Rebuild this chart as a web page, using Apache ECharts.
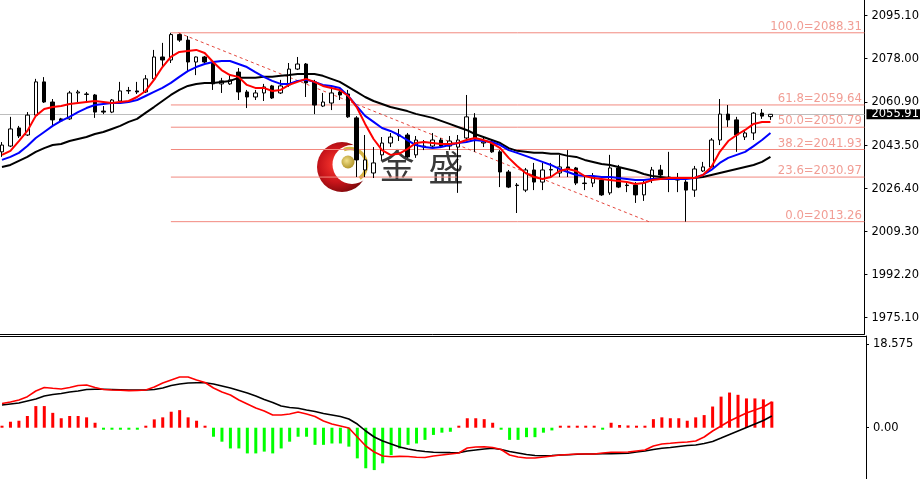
<!DOCTYPE html>
<html><head><meta charset="utf-8">
<script src="https://cdn.jsdelivr.net/npm/echarts@6/dist/echarts.min.js"></script>
<style>html,body{margin:0;padding:0;background:#fff}#c{width:922px;height:479px}</style>
</head><body><div id="c"></div>
<script>
const openP = [2041.0,2043.3,2050.5,2047.7,2055.6,2068.8,2060.8,2054.1,2054.1,2064.4,
2063.8,2063.6,2057.2,2056.8,2061.2,2065.2,2065.2,2064.8,2070.0,2078.7,
2077.5,2087.6,2085.4,2076.7,2078.7,2076.3,2068.0,2068.0,2072.7,2064.8,
2062.8,2064.4,2067.2,2064.4,2067.6,2073.9,2075.9,2068.8,2059.2,2060.4,
2064.8,2064.0,2054.5,2033.8,2032.6,2039.8,2044.5,2047.3,2047.7,2039.8,
2042.9,2043.3,2045.7,2043.3,2042.9,2046.5,2054.5,2044.5,2044.9,2041.0,
2033.0,2027.8,2025.8,2033.8,2029.0,2033.8,2032.6,2035.0,2034.6,2028.6,
2028.6,2029.8,2024.7,2034.6,2027.8,2027.8,2023.9,2029.8,2033.8,2031.0,
2029.8,2029.0,2025.8,2033.4,2035.0,2045.7,2056.0,2053.7,2046.9,2048.5,
2056.4,2055.0];
const closeP = [2043.7,2050.1,2047.3,2055.6,2068.8,2060.8,2053.7,2053.3,2064.4,2064.8,
2064.0,2056.8,2056.8,2061.6,2065.2,2065.4,2064.8,2070.0,2078.7,2077.5,
2087.6,2085.4,2076.7,2078.7,2076.7,2068.0,2069.2,2069.6,2064.8,2062.8,
2064.4,2066.8,2062.4,2067.2,2073.9,2075.9,2068.4,2059.6,2060.8,2064.4,
2063.6,2054.9,2037.8,2037.8,2036.6,2044.5,2046.9,2047.7,2039.0,2045.7,
2043.3,2045.7,2043.3,2045.3,2045.7,2054.9,2046.5,2044.9,2041.0,2033.0,
2027.0,2027.6,2033.8,2029.0,2033.8,2034.0,2035.0,2034.2,2028.6,2028.4,
2031.0,2023.9,2034.6,2027.0,2027.6,2023.9,2028.6,2033.8,2031.8,2030.8,
2030.0,2025.8,2034.2,2035.0,2045.7,2056.0,2053.7,2047.7,2048.5,2056.4,
2055.2,2055.91];
const lowP = [2039.0,2042.9,2046.5,2047.3,2055.2,2060.4,2050.9,2052.9,2053.7,2060.8,
2060.4,2054.5,2056.0,2056.4,2061.0,2064.0,2064.0,2064.4,2069.6,2074.7,
2076.3,2084.7,2072.7,2071.5,2076.3,2065.6,2064.4,2067.6,2061.6,2058.4,
2061.6,2061.2,2062.0,2064.0,2066.8,2073.5,2062.8,2056.0,2058.8,2057.6,
2061.6,2054.5,2031.0,2031.0,2030.6,2037.8,2042.9,2045.3,2038.6,2038.6,
2041.7,2042.5,2042.5,2041.7,2024.7,2045.7,2041.0,2042.9,2040.6,2027.0,
2026.6,2016.7,2025.0,2025.8,2025.8,2031.0,2031.0,2031.0,2027.8,2025.8,
2027.0,2023.5,2023.9,2026.6,2025.0,2020.7,2021.5,2028.6,2031.0,2025.0,
2025.0,2013.26,2023.1,2033.0,2034.6,2043.7,2050.9,2041.0,2045.7,2045.7,
2054.1,2053.7];
const highP = [2044.9,2054.9,2051.3,2056.8,2070.0,2070.7,2062.0,2054.5,2065.2,2065.6,
2064.8,2064.0,2059.2,2062.0,2068.8,2066.8,2068.8,2071.5,2081.5,2084.3,
2088.31,2088.0,2087.0,2078.9,2079.1,2076.7,2070.4,2071.9,2074.3,2065.6,
2065.6,2068.0,2067.6,2069.6,2076.3,2078.7,2076.3,2069.6,2064.4,2066.0,
2066.4,2065.6,2055.2,2047.7,2042.9,2046.9,2048.5,2050.1,2048.5,2047.3,
2045.7,2048.5,2046.5,2047.3,2047.7,2063.6,2056.4,2046.9,2045.7,2041.7,
2033.8,2028.6,2034.6,2036.6,2036.6,2036.6,2039.8,2041.7,2035.0,2031.8,
2032.6,2031.0,2039.8,2035.8,2029.0,2029.0,2029.8,2035.0,2035.8,2041.0,
2032.6,2029.8,2035.4,2037.0,2046.5,2062.0,2059.6,2054.9,2049.3,2056.8,
2058.0,2056.0];
const maFast = [2039.8,2041.4,2045.3,2049.3,2055.3,2058.0,2058.8,2059.2,2060.0,2060.4,
2060.8,2061.2,2060.8,2060.4,2060.8,2061.2,2062.8,2065.2,2069.6,2074.7,
2078.7,2080.7,2081.1,2081.5,2080.3,2076.7,2073.5,2071.5,2070.8,2067.6,
2066.4,2066.4,2065.2,2065.6,2067.6,2068.8,2070.0,2068.8,2067.2,2066.4,
2065.6,2063.2,2058.8,2052.1,2046.1,2041.7,2039.8,2040.2,2042.1,2044.5,
2044.9,2044.5,2044.1,2044.1,2044.5,2045.7,2046.5,2045.7,2044.5,2042.5,
2038.6,2035.4,2032.6,2031.0,2030.2,2031.0,2033.4,2034.2,2033.4,2031.4,
2030.6,2030.2,2029.8,2029.4,2029.0,2028.2,2028.6,2029.8,2030.2,2030.6,
2030.6,2030.6,2030.6,2031.8,2035.0,2041.0,2045.3,2047.7,2049.7,2052.1,
2052.9,2052.9];
const maMid = [2037.8,2039.0,2040.6,2043.3,2046.5,2048.9,2051.3,2053.3,2054.9,2056.8,
2058.4,2059.6,2060.0,2060.4,2060.4,2060.8,2061.6,2063.2,2064.8,2066.4,
2068.4,2070.8,2073.1,2074.7,2075.9,2076.7,2077.1,2077.1,2075.9,2074.7,
2072.7,2070.8,2069.2,2068.0,2068.0,2069.2,2069.6,2068.8,2067.6,2067.2,
2066.4,2063.2,2059.2,2055.3,2052.9,2050.5,2049.3,2047.7,2045.7,2043.7,
2042.9,2042.5,2042.9,2043.7,2044.5,2044.9,2045.7,2045.3,2044.9,2043.7,
2041.7,2040.6,2039.4,2038.2,2037.0,2035.8,2034.2,2033.0,2031.8,2031.4,
2031.4,2031.0,2031.0,2030.6,2030.2,2029.8,2029.8,2030.2,2030.2,2030.2,
2030.2,2030.2,2030.6,2031.8,2033.8,2036.6,2038.6,2039.8,2041.0,2043.3,
2045.7,2048.5];
const maSlow = [2035.0,2035.8,2037.4,2039.0,2041.0,2042.5,2043.7,2044.1,2045.3,2046.1,
2046.9,2048.1,2048.9,2050.1,2051.3,2052.9,2054.1,2056.5,2058.8,2061.2,
2063.6,2065.6,2067.2,2068.0,2068.4,2068.4,2068.8,2069.2,2070.4,2070.4,
2070.4,2070.8,2070.8,2071.2,2071.5,2071.9,2071.9,2071.9,2071.2,2070.0,
2068.8,2066.8,2064.8,2062.8,2061.2,2060.0,2058.8,2058.0,2057.2,2056.1,
2055.3,2054.5,2053.3,2052.1,2050.9,2049.7,2048.1,2046.9,2045.7,2044.5,
2042.5,2041.4,2041.0,2040.6,2040.6,2040.2,2040.2,2039.4,2039.0,2037.8,
2037.0,2036.2,2035.8,2035.0,2034.2,2033.4,2032.2,2031.4,2031.0,2030.6,
2030.6,2030.6,2030.6,2031.0,2031.8,2032.6,2033.4,2034.2,2035.0,2035.8,
2037.0,2039.0];
const macdDif = [5.37,5.70,6.15,6.88,8.14,8.92,8.74,8.59,8.92,9.37,
9.48,8.92,8.48,8.37,8.30,8.23,8.26,8.37,9.03,9.92,
10.59,11.25,11.25,10.59,10.03,8.81,7.92,7.26,6.15,5.26,
4.37,3.71,2.82,2.82,3.04,3.48,3.04,2.49,1.49,0.82,
0.38,-0.07,-2.06,-4.06,-5.39,-6.28,-6.44,-6.35,-6.39,-6.57,
-6.61,-6.28,-6.06,-5.84,-5.61,-4.50,-4.28,-4.22,-4.39,-4.84,
-6.06,-6.50,-6.72,-6.72,-6.50,-6.28,-6.06,-5.95,-5.84,-5.84,
-5.84,-5.61,-5.46,-5.46,-5.39,-5.17,-4.95,-4.06,-3.62,-3.46,
-3.28,-3.17,-2.95,-2.06,-0.73,0.38,1.49,2.37,3.26,3.93,
4.59,5.70];
const macdDea = [5.04,5.26,5.48,5.93,6.37,7.04,7.37,7.59,7.92,8.15,
8.48,8.52,8.52,8.48,8.43,8.37,8.37,8.37,8.48,8.81,
9.37,9.70,9.92,9.99,9.99,9.70,9.26,8.81,8.26,7.70,
7.04,6.26,5.59,4.82,4.48,4.31,3.93,3.60,3.15,2.82,
2.49,1.93,0.82,-0.73,-2.06,-2.95,-3.62,-4.28,-4.73,-5.06,
-5.28,-5.46,-5.50,-5.53,-5.55,-5.17,-4.95,-4.73,-4.57,-4.84,
-5.28,-5.61,-5.95,-6.17,-6.21,-6.17,-6.06,-5.99,-5.90,-5.84,
-5.84,-5.79,-5.75,-5.73,-5.68,-5.39,-5.17,-4.84,-4.57,-4.39,
-4.17,-3.95,-3.84,-3.51,-3.06,-2.29,-1.51,-0.73,0.04,0.82,
1.60,2.60];
const macdHist = [0.15,1.33,1.55,2.6,4.8,4.8,3.3,2.1,2.6,2.6,
2.3,1.1,-0.3,-0.3,-0.3,-0.3,-0.3,0.2,1.85,2.3,
3.55,3.9,2.3,1.55,0.15,-2.0,-3.1,-4.6,-4.6,-5.7,
-5.7,-5.3,-5.7,-4.6,-3.1,-2.0,-2.0,-3.8,-3.8,-3.5,
-3.5,-4.2,-6.8,-9.0,-9.4,-7.9,-6.1,-4.6,-3.8,-3.5,
-2.7,-1.6,-1.1,-0.9,0.15,2.1,2.1,1.9,1.1,-0.3,
-2.7,-2.7,-2.1,-2.1,-1.1,-0.6,0.15,0.2,0.15,0.15,
0.15,-0.15,1.1,0.6,0.5,0.2,0.3,1.9,2.3,2.1,
2.1,1.55,2.3,2.8,4.7,6.9,7.8,7.3,6.5,6.5,
6.3,5.8];
const priceTicks = [1975.10, 1992.20, 2009.30, 2026.40, 2043.50, 2060.90, 2078.00, 2095.10];
const macdTicks = [0, 18.575];
const macdTickLabels = ['0.00', '18.575'];
const fibPct = ['100.0', '61.8', '50.0', '38.2', '23.6', '0.0'];
const fibPrice = [2088.31, 2059.64, 2050.79, 2041.93, 2030.97, 2013.26];
const fibStartBar = 20;
const trendAnchors = [[20.9, 2088.31], [76.6, 2013.26]];
const lastPrice = 2055.91;

const xMin = -0.236, xMax = 102.13;
const FONT = 'DejaVu Sans';
const FIB_LINE = '#f2897f';
const FIB_TEXT = '#ee8479';
const chart = echarts.init(document.getElementById('c'));

function axisY(gi, min, max, ticks, fmt) {
  return {
    type: 'value', gridIndex: gi, position: 'right', min: min, max: max,
    axisLine: {show: true, onZero: false, lineStyle: {color: '#000', width: 1}},
    axisTick: {show: true, length: 3, customValues: ticks, lineStyle: {color: '#000'}},
    axisLabel: {customValues: ticks, formatter: fmt, color: '#000', fontFamily: FONT, fontSize: 11.5, margin: 7},
    splitLine: {show: false}
  };
}
function axisX(gi, pos) {
  return {
    type: 'value', gridIndex: gi, min: xMin, max: xMax, position: pos,
    axisLine: {show: true, onZero: false, lineStyle: {color: '#000', width: 1}},
    axisTick: {show: false}, axisLabel: {show: false}, splitLine: {show: false}
  };
}
function lineSeries(arr, color, width, xi, yi) {
  return {
    type: 'line', xAxisIndex: xi, yAxisIndex: yi, data: arr.map((v, i) => [i, v]),
    showSymbol: false, symbol: 'none', silent: true, z: 4,
    lineStyle: {color: color, width: width}
  };
}

const fibLineSeries = fibPrice.map(p => ({
  type: 'line', xAxisIndex: 0, yAxisIndex: 0, z: 1, silent: true,
  showSymbol: false, symbol: 'none', color: FIB_LINE,
  data: [[fibStartBar, p], [xMax, p]],
  lineStyle: {color: FIB_LINE, width: 1, type: 'solid'}
}));

const option = {
  animation: false,
  backgroundColor: '#ffffff',
  grid: [
    {left: 0, top: 0, width: 866, height: 334},
    {left: 0, top: 336, width: 866, height: 143}
  ],
  xAxis: [axisX(0, 'bottom'), axisX(1, 'top')],
  yAxis: [
    axisY(0, 1968.62, 2101.34, priceTicks, v => v.toFixed(2)),
    axisY(1, -11.38, 20.35, macdTicks, v => {
      const k = macdTicks.findIndex(t => Math.abs(t - v) < 1e-6);
      return k >= 0 ? macdTickLabels[k] : '';
    })
  ],
  graphic: {elements: [
    {type: 'circle', z: 0, shape: {cx: 342, cy: 167, r: 25}, silent: true,
      style: {fill: new echarts.graphic.RadialGradient(0.4, 0.45, 0.65, [
        {offset: 0, color: '#ff3a30'}, {offset: 0.55, color: '#c8141a'}, {offset: 1, color: '#6e0608'}])}},
    {type: 'circle', z: 0, shape: {cx: 352, cy: 164.5, r: 19.5}, silent: true, style: {fill: '#ffffff'}},
    {type: 'arc', z: 0, silent: true, shape: {cx: 350, cy: 165, r: 16.5, startAngle: -Math.PI * 0.62, endAngle: Math.PI * 0.3},
      style: {stroke: '#d6b444', lineWidth: 3.5, fill: null}},
    {type: 'circle', z: 0, shape: {cx: 348, cy: 162, r: 6.5}, silent: true,
      style: {fill: new echarts.graphic.RadialGradient(0.4, 0.4, 0.7, [
        {offset: 0, color: '#f2e08a'}, {offset: 1, color: '#a88a1c'}])}},
    {type: 'text', z: 0, x: 397, y: 166, silent: true,
      style: {text: '金', fontSize: 35, fontFamily: 'Noto Sans CJK SC', fill: '#3a3a3a', align: 'center', verticalAlign: 'middle'}},
    {type: 'text', z: 0, x: 446, y: 168, silent: true,
      style: {text: '盛', fontSize: 35, fontFamily: 'Noto Sans CJK SC', fill: '#3a3a3a', align: 'center', verticalAlign: 'middle'}}
  ]},
  series: fibLineSeries.concat([
    {
      type: 'scatter', name: 'fiboLabels', xAxisIndex: 0, yAxisIndex: 0, z: 2, silent: true, clip: false,
      symbol: 'circle', symbolSize: 1, itemStyle: {color: 'rgba(0,0,0,0)'},
      data: fibPrice.map((p, k) => ({value: [xMax, p], name: fibPct[k] + '=' + p.toFixed(2)})),
      label: {show: true, position: 'left', distance: 2, offset: [0, -6], formatter: '{b}',
        color: FIB_TEXT, fontFamily: FONT, fontSize: 11.7}
    },
    {
      type: 'line', name: 'fiboTrend', xAxisIndex: 0, yAxisIndex: 0, data: trendAnchors, z: 1, silent: true,
      showSymbol: false, symbol: 'none',
      lineStyle: {color: '#e4463c', width: 1, type: [3, 3]}
    },
    {
      type: 'candlestick', name: 'K', xAxisIndex: 0, yAxisIndex: 0, z: 3, silent: true,
      data: openP.map((o, i) => [i, o, closeP[i], lowP[i], highP[i]]),
      encode: {x: 0, y: [1, 2, 3, 4]},
      barWidth: 4,
      itemStyle: {color: '#ffffff', color0: '#000000', borderColor: '#000000', borderColor0: '#000000', borderColorDoji: '#000000', borderWidth: 1},
      markLine: {
        symbol: ['none', 'none'], silent: true, animation: false, z: 1,
        lineStyle: {color: '#bdbdbd', width: 1, type: 'solid'},
        label: {show: true, position: 'end', distance: 2, formatter: lastPrice.toFixed(2),
          backgroundColor: '#000', color: '#fff', fontFamily: FONT, fontSize: 11.5,
          padding: [0, 1, 0, 5], lineHeight: 10},
        emphasis: {disabled: true},
        data: [{yAxis: lastPrice}]
      }
    },
    lineSeries(maSlow, '#000000', 2, 0, 0),
    lineSeries(maMid, '#0000ff', 2, 0, 0),
    lineSeries(maFast, '#ff0000', 2, 0, 0),
    {
      type: 'bar', name: 'hist', xAxisIndex: 1, yAxisIndex: 1, barWidth: 3, barMinHeight: 2, silent: true,
      data: macdHist.map((v, i) => ({value: [i, v], itemStyle: {color: v >= 0 ? '#ff0000' : '#00ff00'}}))
    },
    lineSeries(macdDea, '#000000', 1.6, 1, 1),
    lineSeries(macdDif, '#ff0000', 1.6, 1, 1)
  ])
};
chart.setOption(option);
</script>
</body></html>
